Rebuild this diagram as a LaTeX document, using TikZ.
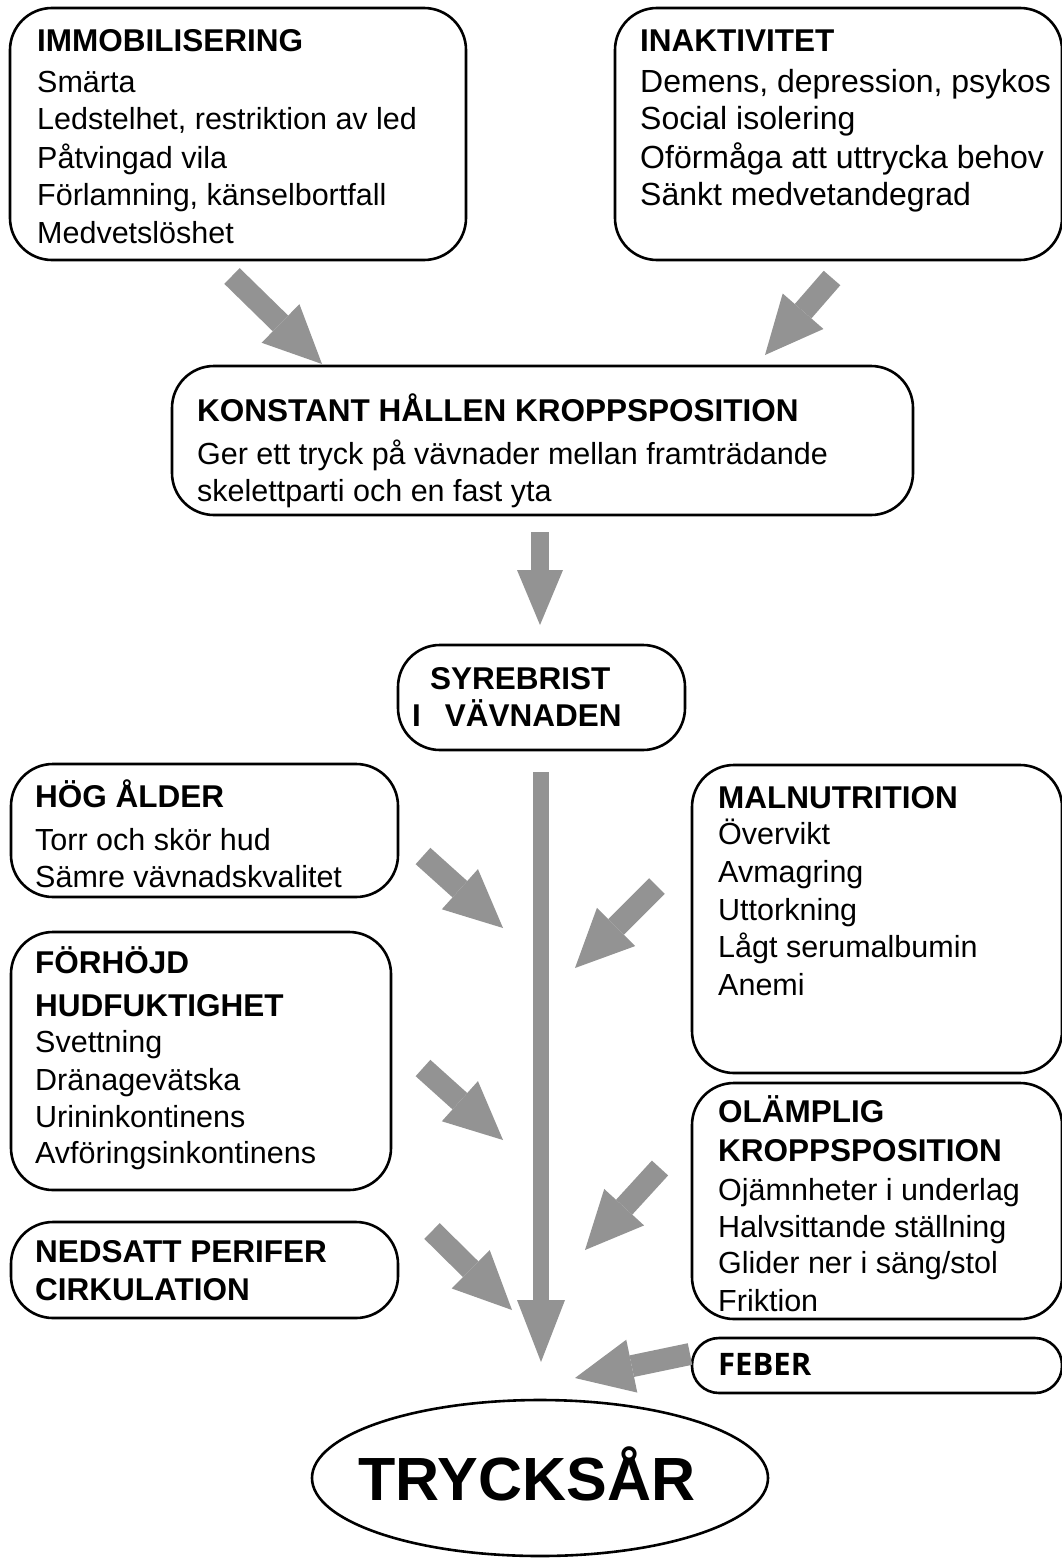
\documentclass[tikz,border=0pt]{standalone}
\usepackage{fontspec}
\setmainfont{Liberation Sans}
\newfontfamily\feberfont{Open Sans}
\usetikzlibrary{arrows.meta,shapes.geometric}
\definecolor{arrgray}{RGB}{147,147,147}
\newcommand{\ttl}[1]{{\fontsize{31.5}{37.5}\selectfont\bfseries #1}}
\begin{document}
\begin{tikzpicture}[x=1pt,y=-1pt,
  box/.style={draw=black,line width=2.6pt,rounded corners=42pt,inner sep=0pt},
  txt/.style={anchor=base west,inner sep=0pt,font=\fontsize{30.5}{37.5}\selectfont},
  bigtxt/.style={anchor=base west,inner sep=0pt,font=\fontsize{32}{37.5}\selectfont},
  diagarrow/.style={draw=arrgray,line width=22pt,-{Triangle[length=58pt,width=54pt,line width=0pt]}},
  downarrow/.style={draw=arrgray,line width=18pt,-{Triangle[length=55pt,width=46pt,line width=0pt]}},
  longarrow/.style={draw=arrgray,line width=16pt,-{Triangle[length=62pt,width=48pt,line width=0pt]}}]
\useasboundingbox (0,0) rectangle (1062,1560);
\clip (0,0) rectangle (1062,1560);
\fill[white] (0,0) rectangle (1062,1560);

% boxes
\node[box,minimum width=456pt,minimum height=252pt] (imm) at (238,134) {};
\node[box,minimum width=447pt,minimum height=252pt] (ina) at (838.5,134) {};
\node[box,minimum width=741pt,minimum height=149pt] (kon) at (542.5,440.5) {};
\node[box,minimum width=287pt,minimum height=105pt] (syr) at (541.5,697.5) {};
\node[box,minimum width=387pt,minimum height=133pt] (hog) at (204.5,830.5) {};
\node[box,minimum width=380pt,minimum height=258pt] (fhj) at (201,1061) {};
\node[box,minimum width=387pt,minimum height=96pt] (ned) at (204.5,1270) {};
\node[box,minimum width=370pt,minimum height=308pt] (mal) at (877,919) {};
\node[box,minimum width=370pt,minimum height=236pt] (ola) at (877,1201) {};
\node[box,rounded corners=27pt,minimum width=370pt,minimum height=55pt] (feb) at (877,1365.5) {};
\node[draw,ellipse,line width=2.6pt,minimum width=456pt,minimum height=156pt,inner sep=0pt] (tryck) at (540,1478) {};

% texts
\foreach \yy/\tt [count=\i] in {52/{\ttl{IMMOBILISERING}},93/Smärta,130/{Ledstelhet, restriktion av led},168/Påtvingad vila,205/{Förlamning, känselbortfall},243/Medvetslöshet}
  \node[txt] (immt\i) at (37,\yy) {\tt};
\node[txt] (inat1) at (640,52) {\ttl{INAKTIVITET}};
\foreach \yy/\tt [count=\i from 2] in {93/{Demens, depression, psykos},130/Social isolering,168/Oförmåga att uttrycka behov,205/Sänkt medvetandegrad}
  \node[bigtxt] (inat\i) at (640,\yy) {\tt};
\foreach \yy/\tt [count=\i] in {421/{\ttl{KONSTANT HÅLLEN KROPPSPOSITION}},464/Ger ett tryck på vävnader mellan framträdande,501/skelettparti och en fast yta}
  \node[txt] (kont\i) at (197,\yy) {\tt};
\node[txt] (syrt1) at (430,689) {\ttl{SYREBRIST}};
\node[txt] (syrt2) at (412,726) {\ttl{I\hspace{24pt}VÄVNADEN}};
\foreach \yy/\tt [count=\i] in {807/{\ttl{HÖG ÅLDER}},850/Torr och skör hud,887/Sämre vävnadskvalitet}
  \node[txt] (hogt\i) at (35,\yy) {\tt};
\foreach \yy/\tt [count=\i] in {973/{\ttl{FÖRHÖJD}},1016/{\ttl{HUDFUKTIGHET}},1052/Svettning,1090/Dränagevätska,1127/Urininkontinens,1163/Avföringsinkontinens}
  \node[txt] (fhjt\i) at (35,\yy) {\tt};
\foreach \yy/\tt [count=\i] in {1262/{\ttl{NEDSATT PERIFER}},1300/{\ttl{CIRKULATION}}}
  \node[txt] (nedt\i) at (35,\yy) {\tt};
\foreach \yy/\tt [count=\i] in {808/{\ttl{MALNUTRITION}},844/Övervikt,882/Avmagring,920/Uttorkning,957/Lågt serumalbumin,995/Anemi}
  \node[txt] (malt\i) at (718,\yy) {\tt};
\foreach \yy/\tt [count=\i] in {1122/{\ttl{OLÄMPLIG}},1161/{\ttl{KROPPSPOSITION}},1200/{Ojämnheter i underlag},1237/{Halvsittande ställning},1273/{Glider ner i säng/stol},1311/Friktion}
  \node[txt] (olat\i) at (718,\yy) {\tt};
\node[txt,font=\feberfont\fontsize{31}{36}\selectfont\bfseries] (febt) at (718,1375) {FEBER};
\node[anchor=base,inner sep=0pt,font=\fontsize{61}{70}\selectfont\bfseries] (tryckt) at (527,1500) {TRYCKSÅR};

% arrows
\coordinate (g1) at (232,276);  \coordinate (g2) at (322,364);
\coordinate (h1) at (832,278);  \coordinate (h2) at (765,355);
\coordinate (d1) at (540,532);  \coordinate (d2) at (540,625);
\coordinate (l1) at (541,772);  \coordinate (l2) at (541,1362);
\coordinate (a1) at (423,856);  \coordinate (a2) at (503,928);
\coordinate (b1) at (423,1068); \coordinate (b2) at (503,1140);
\coordinate (c1) at (432,1231); \coordinate (c2) at (512,1310);
\coordinate (e1) at (657,886);  \coordinate (e2) at (575,968);
\coordinate (f1) at (660,1168); \coordinate (f2) at (585,1250);
\coordinate (k1) at (690,1354); \coordinate (k2) at (575,1378);
\draw[diagarrow] (g1) -- (g2);
\draw[diagarrow] (h1) -- (h2);
\draw[downarrow] (d1) -- (d2);
\draw[longarrow] (l1) -- (l2);
\draw[diagarrow] (a1) -- (a2);
\draw[diagarrow] (b1) -- (b2);
\draw[diagarrow] (c1) -- (c2);
\draw[diagarrow] (e1) -- (e2);
\draw[diagarrow] (f1) -- (f2);
\draw[diagarrow] (k1) -- (k2);
\end{tikzpicture}
\end{document}
